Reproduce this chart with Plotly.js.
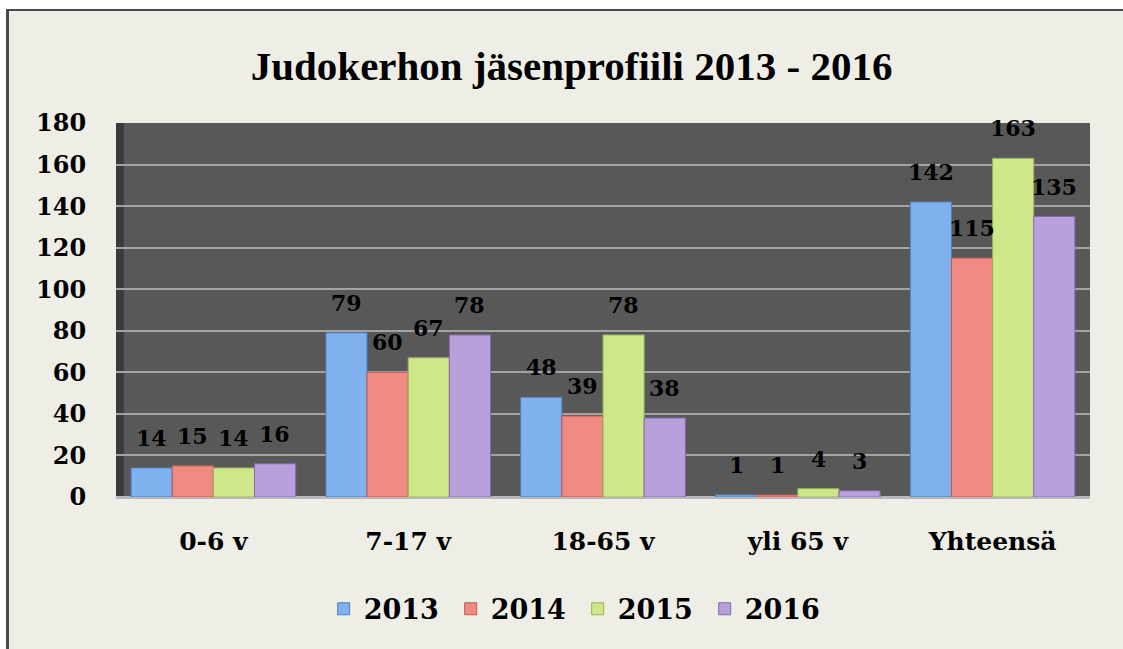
<!DOCTYPE html>
<html>
<head>
<meta charset="utf-8">
<script src="https://cdn.plot.ly/plotly-3.0.1.min.js"></script>
<style>
  html, body { margin: 0; padding: 0; background: #ffffff; width: 1123px; height: 649px; overflow: hidden; }
  #wrap { position: absolute; left: 6px; top: 9px; width: 1114px; height: 638px; overflow: hidden; border-left: 3px solid #4a4a4a; border-top: 2px solid #4a4a4a; background: #efeee6; }
  #chart { width: 1114px; height: 638px; }
</style>
</head>
<body>
<div id="wrap"><div id="chart"></div></div>
<script>
const categories = ["0-6 v", "7-17 v", "18-65 v", "yli 65 v", "Yhteensä"];
const seriesNames = ["2013", "2014", "2015", "2016"];
const values2013 = [14, 79, 48, 1, 142];
const values2014 = [15, 60, 39, 1, 115];
const values2015 = [14, 67, 78, 4, 163];
const values2016 = [16, 78, 38, 3, 135];
const yTicks = [0, 20, 40, 60, 80, 100, 120, 140, 160, 180];

const allValues = [values2013, values2014, values2015, values2016];
const fills = ["#7fb1ee", "#f08b83", "#cde78a", "#b8a0dc"];
const edges = ["#4d7fbf", "#c4564e", "#98b452", "#8668b0"];
const serif = "DejaVu Serif, Liberation Serif, serif";
const labelShift = [-61.5, -20.5, 20.5, 61.5];

const traces = allValues.map((vals, i) => ({
  type: "bar",
  name: seriesNames[i],
  x: categories,
  y: vals,
  marker: { color: fills[i], line: { color: edges[i], width: 1 } },
  hoverinfo: "x+y+name"
}));

const annotations = [];
allValues.forEach((vals, i) => {
  vals.forEach((v, j) => {
    annotations.push({
      x: categories[j], y: v, xref: "x", yref: "y",
      text: "<b>" + v + "</b>", showarrow: false,
      xanchor: "center", yanchor: "middle",
      xshift: labelShift[i], yshift: 30,
      font: { family: serif, size: 22, color: "#000000" }
    });
  });
});

const layout = {
  width: 1114,
  height: 638,
  margin: { l: 107, r: 33, t: 112, b: 152, pad: 0 },
  paper_bgcolor: "#efeee6",
  plot_bgcolor: "#585858",
  barmode: "group",
  bargap: 0.155,
  bargroupgap: 0,
  title: {
    text: "<b>Judokerhon jäsenprofiili 2013 - 2016</b>",
    font: { family: "Liberation Serif, serif", size: 41, color: "#000000" },
    xref: "container", x: 0.505, xanchor: "center",
    yref: "container", y: 0.915, yanchor: "middle"
  },
  xaxis: {
    type: "category",
    showgrid: false,
    zeroline: false,
    showline: false,
    ticks: "outside",
    ticklen: 22,
    tickcolor: "rgba(0,0,0,0)",
    tickfont: { family: serif, size: 25, color: "#000000", weight: "bold" }
  },
  yaxis: {
    range: [0, 180],
    tickvals: yTicks,
    ticktext: yTicks.map(String),
    showgrid: true,
    gridcolor: "#a3a3a3",
    gridwidth: 2,
    zeroline: true,
    zerolinecolor: "#b8b8b8",
    zerolinewidth: 3,
    showline: false,
    ticks: "outside",
    ticklen: 24,
    tickcolor: "rgba(0,0,0,0)",
    tickfont: { family: serif, size: 24, color: "#000000", weight: "bold" }
  },
  shapes: [
    { type: "rect", xref: "paper", yref: "paper", x0: 0, x1: 0.008, y0: 0, y1: 1,
      fillcolor: "#3a3a3a", line: { width: 0 }, layer: "below" }
  ],
  annotations: annotations,
  legend: {
    orientation: "h",
    x: 0.474, xanchor: "center",
    y: -0.30, yanchor: "middle",
    font: { family: serif, size: 27, color: "#000000", weight: "bold" },
    bgcolor: "rgba(0,0,0,0)",
    traceorder: "normal",
    itemwidth: 30,
    entrywidth: 82,
    entrywidthmode: "pixels"
  },
  showlegend: true
};

Plotly.newPlot("chart", traces, layout, { displayModeBar: false, staticPlot: true });
</script>
</body>
</html>
